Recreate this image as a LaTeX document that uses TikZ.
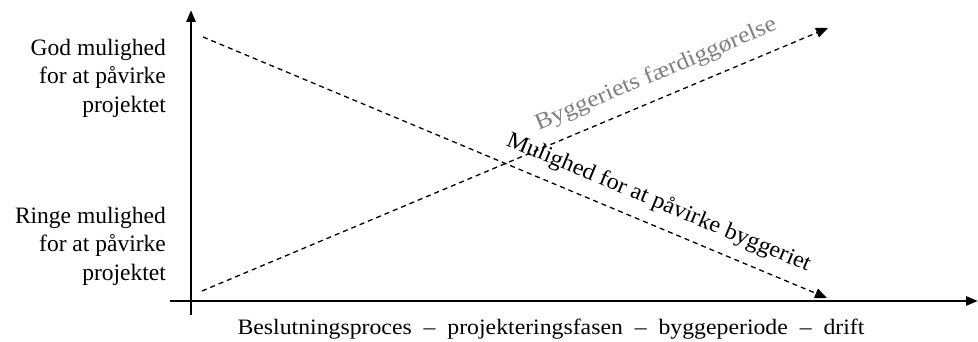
\documentclass[tikz,border=0pt]{standalone}
\usepackage{fontspec}
\setmainfont{Liberation Serif}
\usepackage{tikz}
\usetikzlibrary{positioning, arrows.meta}

\begin{document}
\begin{tikzpicture}[x=1pt, y=1pt,
  axis/.style={line width=2.6pt, -{Triangle[length=12pt, width=9pt]}},
  trend/.style={line width=1.3pt, dash pattern=on 5pt off 4pt, -{Triangle[length=12pt, width=10pt]}},
  level/.style={align=right, anchor=east, inner sep=0pt, font=\fontsize{23.5}{28.5}\selectfont},
  curvelabel/.style={sloped, inner sep=0pt, font=\fontsize{23}{28}\selectfont}]

  \useasboundingbox (0,0) rectangle (978,342);

  % Coordinates
  \coordinate (ybot) at (191,27);
  \coordinate (ytop) at (191,332);
  \coordinate (xleft) at (170,41);
  \coordinate (xright) at (978,41);
  \coordinate (dstart) at (203,305);
  \coordinate (dend) at (827,44);
  \coordinate (istart) at (202,51);
  \coordinate (iend) at (828,314);

  % Nodes
  \node[level] (good) at (166,264) {God mulighed\\for at påvirke\\projektet};
  \node[level] (poor) at (166,96) {Ringe mulighed\\for at påvirke\\projektet};
  \node[anchor=base, inner sep=0pt, font=\fontsize{22}{26}\selectfont] (time) at (551,7)
    {\scalebox{1.08}[1]{Beslutningsproces\ \ –\ \ projekteringsfasen\ \ –\ \ byggeperiode\ \ –\ \ drift}};

  % Arrows
  \draw[axis] (ybot) -- (ytop);
  \draw[axis] (xleft) -- (xright);
  \draw[trend] (dstart) -- node[curvelabel, pos=0.716, above=17pt, anchor=base] (influence)
    {\scalebox{1.05}[1]{Mulighed for at påvirke byggeriet}} (dend);
  \draw[trend] (istart) -- node[curvelabel, pos=0.74, above=18pt, anchor=base, text=gray] (completion)
    {\scalebox{1.12}[1]{Byggeriets færdiggørelse}} (iend);

\end{tikzpicture}
\end{document}
